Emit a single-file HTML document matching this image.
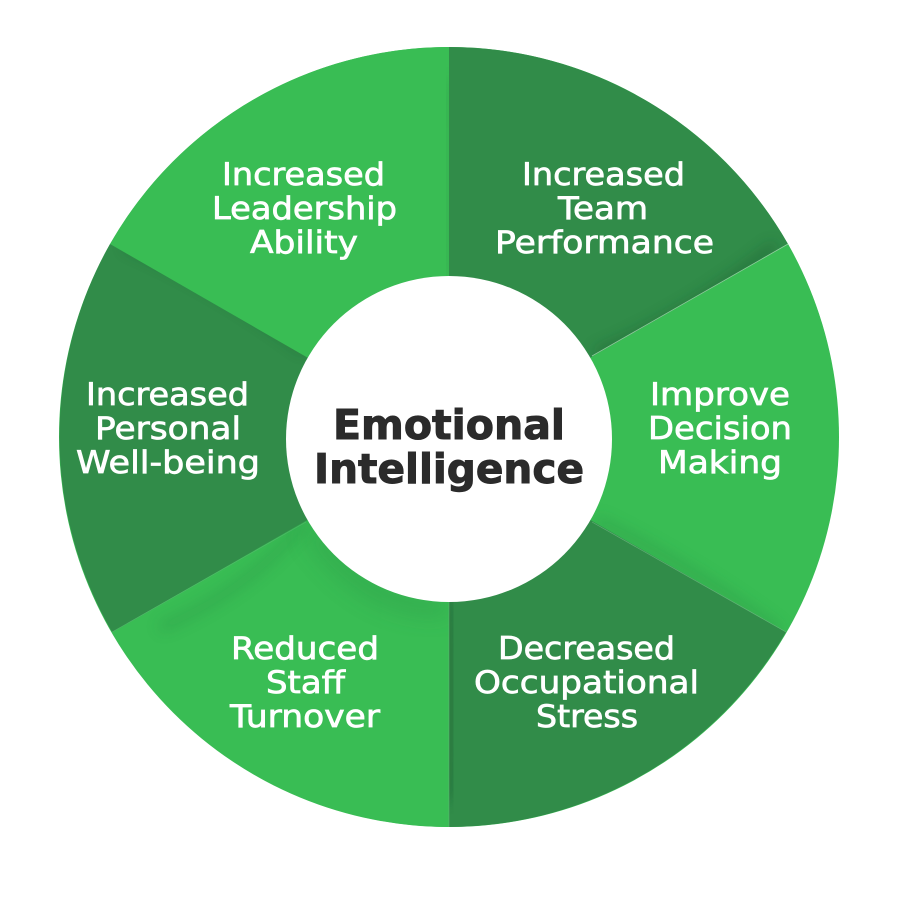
<!DOCTYPE html>
<html><head><meta charset="utf-8">
<style>html,body{margin:0;padding:0;background:#fff;width:900px;height:900px;overflow:hidden}svg{display:block}
.t{font-family:"DejaVu Sans","Liberation Sans",sans-serif;font-size:31px;fill:#fff;stroke:#fff;stroke-width:.7}
.h{font-family:"DejaVu Sans","Liberation Sans",sans-serif;font-weight:700;font-size:41px;fill:#2b2b2b;stroke:#2b2b2b;stroke-width:1}</style></head>
<body>
<svg width="900" height="900" viewBox="0 0 900 900" xmlns="http://www.w3.org/2000/svg">
<defs>
<filter id="b" x="-40%" y="-40%" width="180%" height="180%"><feGaussianBlur stdDeviation="7"/></filter>
<filter id="c" x="-40%" y="-40%" width="180%" height="180%"><feGaussianBlur stdDeviation="12"/></filter>
<clipPath id="w1"><path d="M449 439L110 244A391 391 0 0 1 449 47Z"/></clipPath>
<clipPath id="w2"><path d="M449 439L449 47A391 391 0 0 1 788 244Z"/></clipPath>
<clipPath id="w3"><path d="M449 439L788 244A391 391 0 0 1 786 632Z"/></clipPath>
<clipPath id="w4"><path d="M449 439L786 632A391 391 0 0 1 449 827Z"/></clipPath>
<clipPath id="w5"><path d="M449 439L449 827A391 391 0 0 1 112 632Z"/></clipPath>
<clipPath id="w6"><path d="M449 439L112 632A391 391 0 0 1 110 244Z"/></clipPath>
</defs>
<circle cx="449" cy="437" r="390" fill="#39bd54"/>
<path d="M449 439L110 244A391 391 0 0 1 449 47Z" fill="#39bd54"/>
<path d="M449 439L449 47A391 391 0 0 1 788 244Z" fill="#318c49"/>
<path d="M449 439L788 244A391 391 0 0 1 786 632Z" fill="#39bd54"/>
<path d="M449 439L786 632A391 391 0 0 1 449 827Z" fill="#318c49"/>
<path d="M449 439L449 827A391 391 0 0 1 112 632Z" fill="#39bd54"/>
<path d="M449 439L112 632A391 391 0 0 1 110 244Z" fill="#318c49"/>

<g clip-path="url(#w1)"><path d="M451 80Q444 170 451 280" stroke="#2f9a48" stroke-width="8" fill="none" opacity=".4" filter="url(#b)"/></g>
<g clip-path="url(#w2)"><path d="M596 354Q690 315 775 246" stroke="#1f5c30" stroke-width="8" fill="none" opacity=".6" filter="url(#b)"/></g>
<g clip-path="url(#w3)"><path d="M596 520Q690 565 780 632" stroke="#2c9146" stroke-width="8" fill="none" opacity=".5" filter="url(#b)"/></g>
<g clip-path="url(#w4)"><path d="M447 600Q456 700 447 800" stroke="#1f5c30" stroke-width="10" fill="none" opacity=".55" filter="url(#b)"/></g>
<g clip-path="url(#w5)"><path d="M160 628Q250 590 306 520" stroke="#2c9146" stroke-width="8" fill="none" opacity=".45" filter="url(#b)"/><path d="M312 530Q370 612 449 606" stroke="#2c9146" stroke-width="16" fill="none" opacity=".45" filter="url(#c)"/></g>
<g clip-path="url(#w6)"><path d="M125 244Q220 285 306 350" stroke="#1f5c30" stroke-width="8" fill="none" opacity=".45" filter="url(#b)"/></g>

<path d="M592 356L788 244" stroke="#a9dcb4" stroke-width=".8" opacity=".8"/>
<path d="M592 522L786 632" stroke="#7fc792" stroke-width=".7" opacity=".6"/>
<path d="M449 602V827" stroke="#6db583" stroke-width=".7" opacity=".6"/>
<path d="M306 522L112 632" stroke="#6db583" stroke-width=".6" opacity=".5"/>

<circle cx="449" cy="439" r="163" fill="#fff"/>

<text class="h" x="333" y="439" textLength="232" lengthAdjust="spacingAndGlyphs">Emotional</text>
<text class="h" x="314" y="483" textLength="270" lengthAdjust="spacingAndGlyphs">Intelligence</text>

<text class="t" x="222" y="185" textLength="163" lengthAdjust="spacingAndGlyphs">Increased</text>
<text class="t" x="212" y="219" textLength="185" lengthAdjust="spacingAndGlyphs">Leadership</text>
<text class="t" x="250" y="253" textLength="108" lengthAdjust="spacingAndGlyphs">Ability</text>

<text class="t" x="522" y="185" textLength="163" lengthAdjust="spacingAndGlyphs">Increased</text>
<text class="t" x="558" y="219" textLength="90" lengthAdjust="spacingAndGlyphs">Team</text>
<text class="t" x="495" y="253" textLength="219" lengthAdjust="spacingAndGlyphs">Performance</text>

<text class="t" x="650" y="405" textLength="140" lengthAdjust="spacingAndGlyphs">Improve</text>
<text class="t" x="648" y="439" textLength="144" lengthAdjust="spacingAndGlyphs">Decision</text>
<text class="t" x="658" y="473" textLength="124" lengthAdjust="spacingAndGlyphs">Making</text>

<text class="t" x="498" y="659" textLength="177" lengthAdjust="spacingAndGlyphs">Decreased</text>
<text class="t" x="474" y="693" textLength="225" lengthAdjust="spacingAndGlyphs">Occupational</text>
<text class="t" x="536" y="727" textLength="102" lengthAdjust="spacingAndGlyphs">Stress</text>

<text class="t" x="231" y="659" textLength="148" lengthAdjust="spacingAndGlyphs">Reduced</text>
<text class="t" x="266" y="693" textLength="79" lengthAdjust="spacingAndGlyphs">Staff</text>
<text class="t" x="230" y="727" textLength="150" lengthAdjust="spacingAndGlyphs">Turnover</text>

<text class="t" x="86" y="405" textLength="163" lengthAdjust="spacingAndGlyphs">Increased</text>
<text class="t" x="95" y="439" textLength="146" lengthAdjust="spacingAndGlyphs">Personal</text>
<text class="t" x="76" y="473" textLength="184" lengthAdjust="spacingAndGlyphs">Well-being</text>
</svg>
</body></html>
